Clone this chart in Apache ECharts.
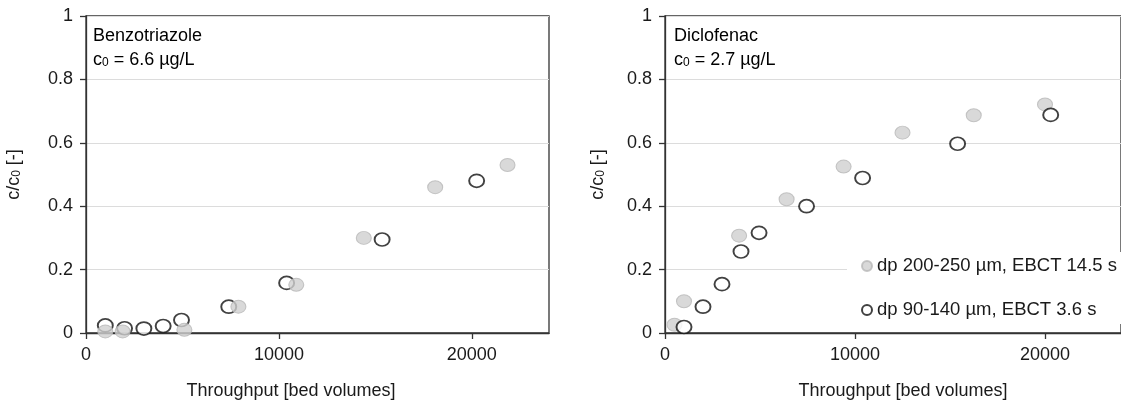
<!DOCTYPE html>
<html>
<head>
<meta charset="utf-8">
<script src="https://cdn.jsdelivr.net/npm/echarts@6/dist/echarts.min.js"></script>
<style>html,body{margin:0;padding:0;background:#fff;}#c{width:1121px;height:405px;}</style>
</head>
<body>
<div id="c"></div>
<script>
// ---- data ----
const nameLarge = 'dp 200-250 µm, EBCT 14.5 s';
const nameSmall = 'dp 90-140 µm, EBCT 3.6 s';
const xTicks = [0, 10000, 20000];
// Benzotriazole (left panel)
const benzoLarge = [[1000,0.005],[1900,0.005],[5100,0.01],[7900,0.083],[10900,0.152],[14400,0.30],[18100,0.46],[21850,0.53]];
const benzoSmall = [[1000,0.024],[2000,0.015],[3000,0.014],[4000,0.022],[4950,0.041],[7400,0.083],[10400,0.158],[15350,0.295],[20250,0.48]];
// Diclofenac (right panel)
const dicloLarge = [[500,0.026],[1000,0.10],[3900,0.307],[6400,0.422],[9400,0.525],[12500,0.632],[16250,0.687],[20000,0.721]];
const dicloSmall = [[1000,0.019],[2000,0.083],[3000,0.154],[4000,0.257],[4950,0.316],[7450,0.40],[10400,0.489],[15400,0.597],[20300,0.688]];

const FONT = 'Liberation Sans, Arial, sans-serif';
const TXT = '#1a1a1a';
const AX = '#333';

const richTxt = {
  a: {fontSize: 18, lineHeight: 24, verticalAlign: 'bottom', color: TXT, fontFamily: FONT},
  s: {fontSize: 12, lineHeight: 12, verticalAlign: 'bottom', color: TXT, fontFamily: FONT}
};

function xAxisCfg(gi) {
  return {
    gridIndex: gi, type: 'value', min: 0, max: 24000, interval: 10000,
    axisLine: {show: true, onZero: false, lineStyle: {color: AX, width: 1.3}},
    axisTick: {show: true, length: 6, customValues: xTicks, lineStyle: {color: AX, width: 1.3}},
    axisLabel: {customValues: xTicks, fontSize: 18, color: TXT, fontFamily: FONT, margin: 13,
      formatter: v => String(v)},
    splitLine: {show: false}
  };
}
function yAxisCfg(gi, gap) {
  return {
    gridIndex: gi, type: 'value', min: 0, max: 1, interval: 0.2,
    axisLine: {show: true, onZero: false, lineStyle: {color: AX, width: 1.3}},
    axisTick: {show: true, length: 6, lineStyle: {color: AX, width: 1.3}},
    axisLabel: {fontSize: 18, color: TXT, fontFamily: FONT, margin: 13},
    splitLine: {show: true, lineStyle: {color: '#dcdcdc', width: 1}},
    name: '{a|c/c}{s|0}{a| [-]}', nameLocation: 'middle', nameGap: gap, nameRotate: 90,
    nameTextStyle: {rich: richTxt}
  };
}
const largeStyle = {color: '#d0d0d0', borderColor: '#b8b8b8', borderWidth: 1};
const smallStyle = {color: '#ffffff', borderColor: '#111', borderWidth: 1.8};
function sc(name, gi, data, style, z) {
  return {name, type: 'scatter', xAxisIndex: gi, yAxisIndex: gi, data,
    symbol: 'circle', symbolSize: [15, 13], itemStyle: style, z, emphasis: {disabled: true}};
}

const chart = echarts.init(document.getElementById('c'), null, {renderer: 'canvas'});
chart.setOption({
  animation: false,
  backgroundColor: '#fff',
  textStyle: {fontFamily: FONT},
  grid: [
    {left: 86, top: 16, width: 463, height: 317, show: true, borderColor: AX, borderWidth: 1.3, backgroundColor: 'transparent'},
    {left: 665, top: 16, width: 463, height: 317, show: true, borderColor: AX, borderWidth: 1.3, backgroundColor: 'transparent'}
  ],
  xAxis: [xAxisCfg(0), xAxisCfg(1)],
  yAxis: [yAxisCfg(0, 63), yAxisCfg(1, 58)],
  legend: {
    orient: 'vertical', left: 847, top: 252, padding: [4, 6, 4, 14], backgroundColor: '#fff',
    itemWidth: 10, itemHeight: 10, itemGap: 24, icon: 'circle', selectedMode: false,
    textStyle: {fontSize: 18.5, color: TXT, fontFamily: FONT, lineHeight: 20},
    data: [nameLarge, nameSmall]
  },
  series: [
    sc(nameSmall, 0, benzoSmall, smallStyle, 2),
    sc(nameLarge, 0, benzoLarge, largeStyle, 3),
    sc(nameLarge, 1, dicloLarge, largeStyle, 2),
    sc(nameSmall, 1, dicloSmall, smallStyle, 3)
  ],
  graphic: [
    {type: 'text', left: 93, top: 27, z: 10, style: {text: '{a|Benzotriazole}\n{a|c}{s|0}{a| = 6.6 µg/L}', rich: richTxt}},
    {type: 'text', left: 674, top: 27, z: 10, style: {text: '{a|Diclofenac}\n{a|c}{s|0}{a| = 2.7 µg/L}', rich: richTxt}},
    {type: 'text', x: 291, y: 391, z: 10, style: {text: 'Throughput [bed volumes]', fontSize: 18, fill: TXT, fontFamily: FONT, align: 'center', verticalAlign: 'middle'}},
    {type: 'text', x: 903, y: 391, z: 10, style: {text: 'Throughput [bed volumes]', fontSize: 18, fill: TXT, fontFamily: FONT, align: 'center', verticalAlign: 'middle'}}
  ]
});
</script>
</body>
</html>
